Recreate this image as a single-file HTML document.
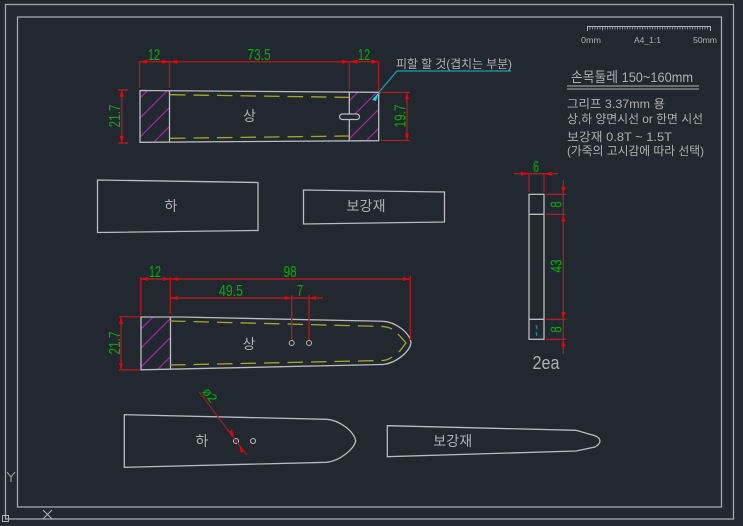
<!DOCTYPE html>
<html><head><meta charset="utf-8">
<style>
html,body{margin:0;padding:0;background:#212830;width:743px;height:526px;overflow:hidden}
svg{display:block}
text{font-family:"Liberation Sans","Noto Sans CJK KR",sans-serif}
.g{fill:#00b400;font-size:15.5px;text-anchor:middle}
.w{fill:#aeb0b2;font-size:11px}
.o{fill:none;stroke:#b9bbbd;stroke-width:1.3}
.r{fill:none;stroke:#ad1a1a;stroke-width:1.4}
.a{fill:#f00000;stroke:none}
.y{fill:none;stroke:#a8a620;stroke-width:1.3;stroke-dasharray:15.5 8}
.h{stroke:#a825a8;stroke-width:1.2;fill:none}
</style></head><body>
<svg width="743" height="526" viewBox="0 0 743 526" xmlns="http://www.w3.org/2000/svg">
<rect width="743" height="526" fill="#212830"/>
<defs>
<clipPath id="c1"><path d="M140 90.5H169.5V141.8L140 142.3Z"/></clipPath>
<clipPath id="c2"><path d="M349.3 92H378.7V140.7H349.3Z"/></clipPath>
<clipPath id="c3"><path d="M141 317H170.5V369.8H141Z"/></clipPath>
</defs>

<!-- frames -->
<rect x="5.5" y="4.5" width="728" height="514.5" fill="none" stroke="#a6a9ac" stroke-width="1.3"/>
<rect x="17.5" y="17" width="704" height="490" fill="none" stroke="#a6a9ac" stroke-width="1.3"/>
<rect x="2.5" y="515.5" width="6" height="6" fill="none" stroke="#b0b2b4" stroke-width="1"/>
<path d="M7 472L11 477L15 472M11 477V482M43 510L52 519M52 510L43 519" fill="none" stroke="#b0b2b4" stroke-width="1"/>

<!-- ruler -->
<path d="M587.5 31V26.5H710.5V31" fill="none" stroke="#b0b2b4" stroke-width="1"/>
<path d="M590 26.5v3M592.5 26.5v3M595 26.5v3M597.5 26.5v3M600 26.5v3M602.5 26.5v4M605 26.5v3M607.5 26.5v3M610 26.5v3M612.5 26.5v3M615 26.5v3M617.5 26.5v3M620 26.5v3M622.5 26.5v3M625 26.5v3M627.5 26.5v3M630 26.5v3M632.5 26.5v3M635 26.5v3M637.5 26.5v3M640 26.5v3M642.5 26.5v3M645 26.5v3M647.5 26.5v3M650 26.5v3M652.5 26.5v3M655 26.5v3M657.5 26.5v3M660 26.5v3M662.5 26.5v3M665 26.5v3M667.5 26.5v3M670 26.5v3M672.5 26.5v3M675 26.5v3M677.5 26.5v3M680 26.5v3M682.5 26.5v3M685 26.5v3M687.5 26.5v3M690 26.5v3M692.5 26.5v3M695 26.5v3M697.5 26.5v3M700 26.5v3M702.5 26.5v3M705 26.5v3M707.5 26.5v3" stroke="#a6a8aa" stroke-width=".8" fill="none"/>
<text class="w" x="581" y="43" style="font-size:8.5px" textLength="20" lengthAdjust="spacingAndGlyphs">0mm</text>
<text class="w" x="634" y="43" style="font-size:8.5px" textLength="27" lengthAdjust="spacingAndGlyphs">A4_1:1</text>
<text class="w" x="693" y="43" style="font-size:8.5px" textLength="24" lengthAdjust="spacingAndGlyphs">50mm</text>

<!-- notes -->
<text class="w" x="571" y="82" style="font-size:14px" textLength="122" lengthAdjust="spacingAndGlyphs">손목둘레 150~160mm</text>
<path d="M567 86H699M567 89H699" stroke="#b0b2b4" stroke-width="1" fill="none"/>
<text class="w" x="567" y="108" style="font-size:12px" textLength="98" lengthAdjust="spacingAndGlyphs">그리프 3.37mm 용</text>
<text class="w" x="567" y="123" style="font-size:12px" textLength="136" lengthAdjust="spacingAndGlyphs">상,하 양면시선 or 한면 시선</text>
<text class="w" x="567" y="141" style="font-size:12px" textLength="105" lengthAdjust="spacingAndGlyphs">보강재 0.8T ~ 1.5T</text>
<text class="w" x="567" y="155" style="font-size:12px" textLength="137" lengthAdjust="spacingAndGlyphs">(가죽의 고시감에 따라 선택)</text>

<!-- top piece hatch -->
<g clip-path="url(#c1)"><path class="h" d="M130 108L180 58M130 128L180 78M130 147L180 97M130 166L180 116M130 182L180 132"/></g>
<g clip-path="url(#c2)"><path class="h" d="M340 110L390 60M340 129L390 79M340 148L390 98M340 167L390 117M340 182L390 132"/></g>
<path d="M140 90.5L378.7 92.3V140.7L140 142.3Z" class="o"/>
<path d="M169.5 90.7V142M349.3 92V140.9" class="o"/>
<rect x="339.5" y="114" width="20" height="5.5" rx="2.75" fill="#212830" stroke="#b9bbbd" stroke-width="1.2"/>
<path d="M170 94.7L349 97.4" class="y"/>
<path d="M170 138.3L349 136" class="y"/>
<text class="w" x="249.5" y="121" text-anchor="middle" style="font-size:14px">상</text>

<!-- top dims -->
<path d="M139.5 61.7H378.5M139.5 61V88M169.5 61V88M349.3 61V89M378.5 61V90" class="r"/>
<path class="a" d="M140 61.7l7-2v4zM169 61.7l-7-2v4zM170 61.7l7-2v4zM349 61.7l-7-2v4zM350 61.7l7-2v4zM378.5 61.7l-7-2v4z"/>
<text class="g" x="154" y="60" textLength="12" lengthAdjust="spacingAndGlyphs">12</text>
<text class="g" x="259" y="60" textLength="23.5" lengthAdjust="spacingAndGlyphs">73.5</text>
<text class="g" x="364" y="60" textLength="12" lengthAdjust="spacingAndGlyphs">12</text>
<path d="M118 90H128M118 143H128M121.7 90V143" class="r"/>
<path class="a" d="M121.7 90l-2 7h4zM121.7 143l-2-7h4z"/>
<text class="g" transform="translate(120,116) rotate(-90)" textLength="23" lengthAdjust="spacingAndGlyphs">21.7</text>
<path d="M380 92.3H410M381 140.5H410M407 92.3V140.5" class="r" style="stroke:#c41c1c;stroke-width:1.1"/>
<path class="a" d="M407 92.3l-2 7h4zM407 140.5l-2-7h4z"/>
<text class="g" transform="translate(405.7,116) rotate(-90)" textLength="23" lengthAdjust="spacingAndGlyphs">19.7</text>

<!-- leader -->
<path d="M379 92L397 71H511" fill="none" stroke="#16a2ad" stroke-width="1.2"/>
<path d="M379 92L372 100L376 101Z" fill="#14d9e6"/>
<text class="w" x="396" y="68" style="font-size:12px" textLength="116" lengthAdjust="spacing">피할 할 것(겹치는 부분)</text>

<!-- second row -->
<path d="M97.5 180L258 182.5V230.5L97.5 232.5Z" class="o"/>
<text class="w" x="171" y="211" text-anchor="middle" style="font-size:14px">하</text>
<path d="M303.5 190L444.5 192V222L303.5 224Z" class="o"/>
<text class="w" x="366" y="211" text-anchor="middle" style="font-size:14px" textLength="39" lengthAdjust="spacing">보강재</text>

<!-- long piece -->
<g clip-path="url(#c3)"><path class="h" d="M130 340L180 290M130 359L180 309M130 378L180 328M130 397L180 347"/></g>
<path d="M141 317L181 317L383 321.3C396 322 410 333 411 343C410 351 397 363 383 364.5L141 369.8Z" class="o"/>
<path d="M170.5 317V369.8" class="o"/>
<path d="M170 321L383 326.5Q388 327 392 329" class="y"/>
<path d="M170 365L383 360.5Q388 360 392 357" class="y"/>
<path d="M398 334L406 343L399 352" fill="none" stroke="#a8a620" stroke-width="1.3"/>
<text class="w" x="249" y="349" text-anchor="middle" style="font-size:14px">상</text>

<path d="M140.7 279H410.5M140.7 277V315M170.3 277V314M410.3 276V340M170.3 298H323M291.7 295V340M309 295V340" class="r"/>
<path class="a" d="M141 279l7-2v4zM170 279l-7-2v4zM171 279l7-2v4zM410 279l-7-2v4zM171 298l7-2v4zM291.5 298l-7-2v4zM309 298l7-2v4z"/>
<text class="g" x="155" y="277" textLength="12" lengthAdjust="spacingAndGlyphs">12</text>
<text class="g" x="290" y="277" textLength="13" lengthAdjust="spacingAndGlyphs">98</text>
<text class="g" x="231" y="296" textLength="24" lengthAdjust="spacingAndGlyphs">49.5</text>
<text class="g" x="300" y="296" textLength="6" lengthAdjust="spacingAndGlyphs">7</text>
<circle cx="291.7" cy="343" r="2.5" fill="none" stroke="#b9bbbd"/>
<circle cx="309" cy="343" r="2.5" fill="none" stroke="#b9bbbd"/>
<path d="M119 316.7H140M119 369.8H140M121 317V370" class="r"/>
<path class="a" d="M121 317l-2 7h4zM121 370l-2-7h4z"/>
<text class="g" transform="translate(120,343) rotate(-90)" textLength="23" lengthAdjust="spacingAndGlyphs">21.7</text>

<!-- lower piece -->
<path d="M124.3 414.7L326.7 419.3C339 420 354 431 355.7 441C354 449 340 461 326.7 462.3L124.3 467.3Z" class="o"/>
<text class="w" x="202" y="446" text-anchor="middle" style="font-size:14px">하</text>
<circle cx="236" cy="441" r="2.5" fill="none" stroke="#b9bbbd" stroke-width="1.1"/>
<circle cx="253" cy="441" r="2.5" fill="none" stroke="#b9bbbd" stroke-width="1.1"/>
<path d="M199.3 392L246.7 455" class="r" style="stroke-width:1.1"/>
<path class="a" d="M233.5 437L229 431.5L232 429.5ZM239 445L244 451L241 453Z"/>
<text class="g" transform="translate(206.4,397.7) rotate(53)" style="font-size:13px" textLength="15" lengthAdjust="spacingAndGlyphs">ø2</text>

<path d="M387.3 425.7L576 430.3L595 435.7Q600 438 600 441Q600 444 595 447L576 451L387.3 456.7Z" class="o"/>
<text class="w" x="452.7" y="446" text-anchor="middle" style="font-size:14px" textLength="39" lengthAdjust="spacing">보강재</text>

<!-- strap -->
<rect x="529" y="194.3" width="15" height="145" class="o"/>
<path d="M529 214.3H544M529 319.3H544" class="o"/>
<path d="M536 325L537 329M536 332L537 336" stroke="#14a0aa" stroke-width="1" fill="none"/>
<path d="M514 173.7H558M529 174V192M544 174V192M546 194.3H566M546 214.3H566M546 319.3H566M546 339.3H566M563.3 180V354" class="r" style="stroke:#c41c1c;stroke-width:1.1"/>
<path class="a" d="M529 173.7l-8-2v4zM544 173.7l8-2v4zM563.3 194l-2-7h4zM563.3 214.5l-2 7h4zM563.3 319l-2-7h4zM563.3 339.5l-2 7h4z"/>
<text class="g" x="536" y="172" textLength="6" lengthAdjust="spacingAndGlyphs">6</text>
<text class="g" transform="translate(561.5,204.5) rotate(-90)" textLength="6.5" lengthAdjust="spacingAndGlyphs">8</text>
<text class="g" transform="translate(561.5,266) rotate(-90)" textLength="13" lengthAdjust="spacingAndGlyphs">43</text>
<text class="g" transform="translate(561.5,329.5) rotate(-90)" textLength="6.5" lengthAdjust="spacingAndGlyphs">8</text>
<text class="w" x="546" y="369" text-anchor="middle" style="font-size:18px" textLength="27" lengthAdjust="spacingAndGlyphs">2ea</text>
</svg>
</body></html>
